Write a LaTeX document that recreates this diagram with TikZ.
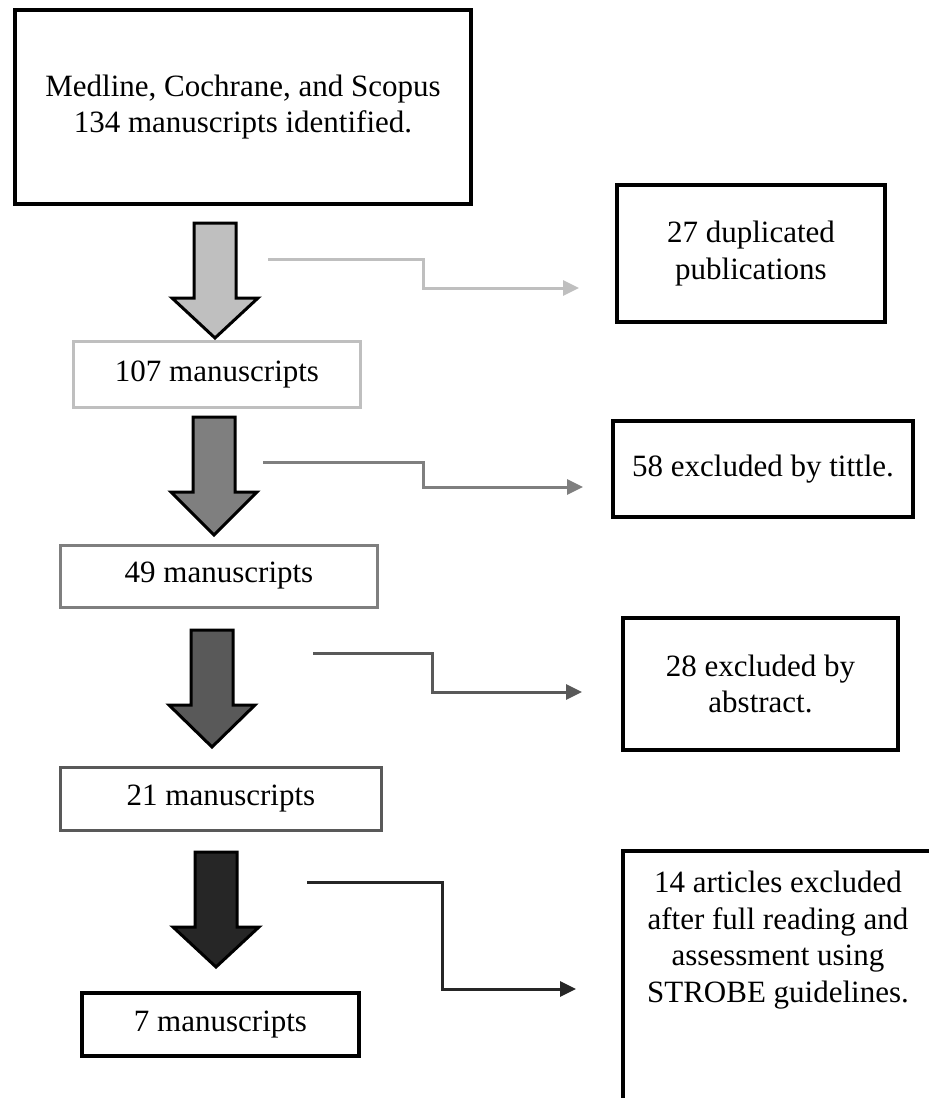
\documentclass[tikz,border=0pt]{standalone}
\usepackage{fontspec}
\setmainfont{Liberation Serif}
\usepackage{tikz}
\usetikzlibrary{arrows.meta}

\definecolor{greyA}{HTML}{BFBFBF}
\definecolor{greyB}{HTML}{7F7F7F}
\definecolor{greyC}{HTML}{595959}
\definecolor{greyD}{HTML}{262626}

\newcommand{\flowfont}{\fontsize{31}{36.5}\selectfont}

\tikzset{
  flowbox/.style={draw, line width=4pt, inner sep=0pt, align=center, font=\flowfont},
  stagebox/.style={flowbox, line width=3pt},
  blockarrow/.style={draw=black, line width=3pt, line join=miter},
  elbow/.style={line width=3pt, -{Triangle[length=16pt, width=15pt]}},
}

\begin{document}
\begin{tikzpicture}[x=1pt, y=-1pt]
  \useasboundingbox (0,0) rectangle (929,1098);
  % Boîte de départ
  \node[flowbox, minimum width=456pt, minimum height=194pt] (src) at (243,107)
    {Medline, Cochrane, and Scopus\\134 manuscripts identified.};
  % Étapes (colonne de gauche)
  \node[stagebox, draw=greyA, minimum width=287pt, minimum height=66pt] (n107) at (217,374) {107 manuscripts};
  \node[stagebox, draw=greyB, minimum width=317pt, minimum height=62pt] (n49) at (219,576) {49 manuscripts};
  \node[stagebox, draw=greyC, minimum width=321pt, minimum height=63pt] (n21) at (221,798.5) {21 manuscripts};
  \node[flowbox, minimum width=277pt, minimum height=63pt] (n7) at (220.5,1024.5) {7 manuscripts};
  % Exclusions (colonne de droite)
  \node[flowbox, minimum width=268pt, minimum height=137pt] (dup) at (751,253.5) {27 duplicated\\publications};
  \node[flowbox, minimum width=300pt, minimum height=96pt] (tit) at (763,469) {58 excluded by tittle.};
  \node[flowbox, minimum width=275pt, minimum height=132pt] (abs) at (760.5,684) {28 excluded by\\abstract.};
  \draw[line width=4pt] (940,851) -- (623,851) -- (623,1110);
  \node[font=\flowfont, align=center, inner sep=0pt] (full) at (778,940)
    {14 articles excluded\\after full reading and\\assessment using\\STROBE guidelines.};
  % Grosses flèches
  \foreach \cx/\ytop/\ybase/\ytip/\col in {215/223/298/338/greyA, 214/417/492/535/greyB,
      212/630/705/747/greyC, 216/852/927/967/greyD}
    \draw[blockarrow, fill=\col] (\cx-21,\ytop) -- (\cx+21,\ytop) -- (\cx+21,\ybase)
      -- (\cx+43,\ybase) -- (\cx,\ytip) -- (\cx-43,\ybase) -- (\cx-21,\ybase) -- cycle;
  % Renvois vers les exclusions
  \coordinate (cut1) at (268,259);  \coordinate (drop1) at (579,288);
  \coordinate (cut2) at (263,462);  \coordinate (drop2) at (583,487);
  \coordinate (cut3) at (313,653);  \coordinate (drop3) at (582,692);
  \coordinate (cut4) at (307,882);  \coordinate (drop4) at (576,989);
  \draw[elbow, greyA] (cut1) -- ++(155,0) |- (drop1);
  \draw[elbow, greyB] (cut2) -- ++(160,0) |- (drop2);
  \draw[elbow, greyC] (cut3) -- ++(119,0) |- (drop3);
  \draw[elbow, greyD] (cut4) -- ++(135,0) |- (drop4);
\end{tikzpicture}
\end{document}
